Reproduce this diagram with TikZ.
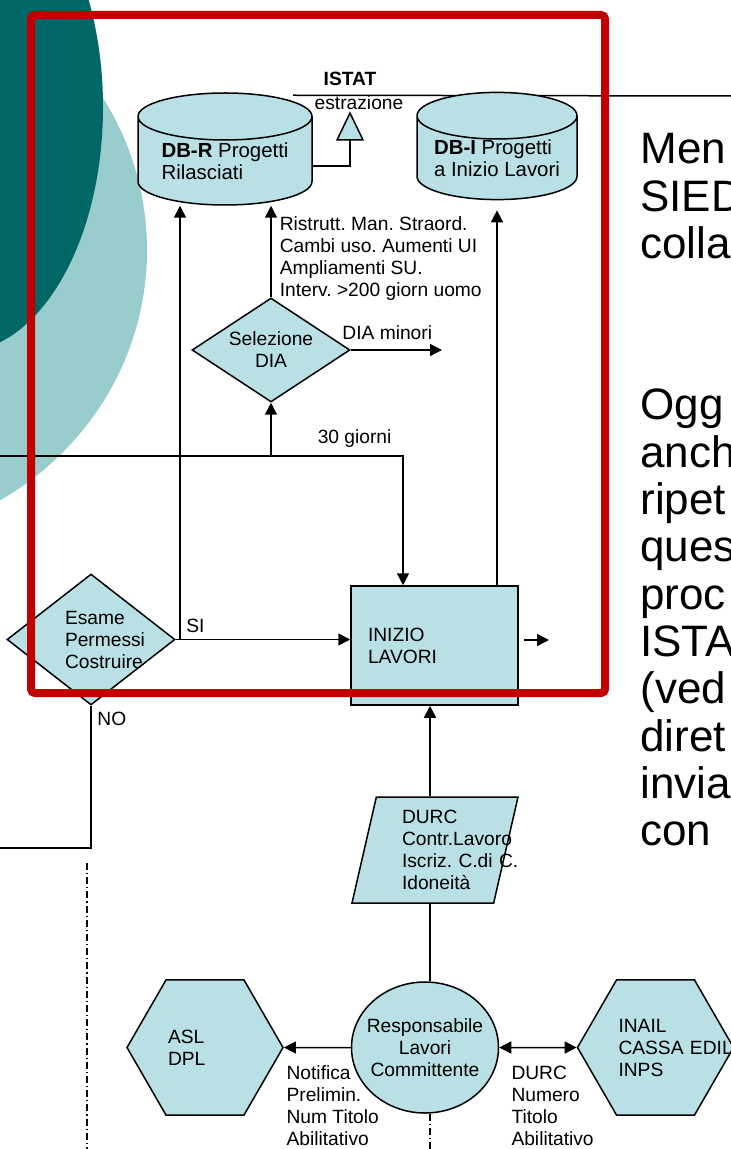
\documentclass[tikz,border=0pt]{standalone}
\usepackage{fontspec}
\setmainfont{Liberation Sans}
\usetikzlibrary{shapes.geometric,arrows.meta,calc,positioning}
\definecolor{boxfill}{RGB}{185,224,228}
\definecolor{darkteal}{RGB}{0,102,102}
\definecolor{lightteal}{RGB}{153,204,204}
\definecolor{framered}{RGB}{192,0,0}
\newcommand{\lbfont}{\fontsize{9.6}{11}\selectfont}
\newcommand{\dbfont}{\fontsize{10.2}{10.8}\selectfont}
\newcommand{\bigfont}{\fontsize{22}{24}\selectfont}
\hyphenpenalty=10000
\frenchspacing

\begin{document}
\begin{tikzpicture}[
    x=0.5pt, y=-0.5pt,
    block/.style={draw, fill=boxfill, line width=0.75pt, inner sep=0pt, font=\lbfont},
    lbl/.style={font=\lbfont, inner sep=1pt},
    > = {Triangle[length=6pt,width=6pt]},
    conn/.style={line width=0.75pt},
    lane/.style={line width=0.6pt, dash pattern=on 3.5pt off 1.5pt on 0.6pt off 1.5pt},
    leftblock/.style={align=left, text width=#1}
  ]
  \useasboundingbox (0,0) rectangle (731,1149);
  \clip (0,0) rectangle (731,1149);

  % slide background
  \fill[lightteal] (-150,250) ellipse [x radius=148.5pt, y radius=145pt];
  \fill[darkteal] (-40,107) ellipse [x radius=71.5pt, y radius=122.5pt];

  % databases
  \node[block, cylinder, shape border rotate=90, aspect=0.37, minimum width=87pt, minimum height=56pt,
        font=\dbfont, align=left, anchor=shape center] (dbr) at (225,149) {\textbf{DB-R} Progetti\\Rilasciati};
  \coordinate (edgeR) at (731,96);
  \draw[conn] ([xshift=34pt,yshift=-1.5pt]dbr.north) -- (edgeR);
  \node[block, cylinder, shape border rotate=90, aspect=0.37, minimum width=80pt, minimum height=51pt,
        font=\dbfont, align=left, anchor=shape center] (dbi) at (497,146) {\textbf{DB-I} Progetti\\a Inizio Lavori};

  % ISTAT extraction
  \node[lbl, font=\lbfont\bfseries] (istat) at (350,79) {ISTAT};
  \node[lbl] (estr) at (359,103) {estrazione};
  \draw[conn, fill=boxfill] (350,113) -- (363,140) -- (337,140) -- cycle;
  \coordinate (tri) at (350,140);
  \coordinate (trilink) at (350,166);
  \draw[conn] (tri) -- (trilink) -- (trilink -| dbr.east);

  % flow
  \node[block, diamond, aspect=1.5, minimum width=79pt, minimum height=52pt, align=center] (sel) at (271,350) {Selezione\\DIA};
  \node[block, rectangle, minimum width=83.5pt, minimum height=59.5pt, leftblock=66.5pt] (inizio) at (434.5,645.5) {INIZIO\\LAVORI};
  \node[block, diamond, aspect=1.28, minimum width=84pt, minimum height=65.5pt, leftblock=26pt] (esame) at (91,639.5) {Esame\\Permessi\\Costruire};
  \node[block, trapezium, trapezium left angle=73, trapezium right angle=107, trapezium stretches body,
        minimum width=83pt, minimum height=53pt, leftblock=33pt] (durc) at (435,850) {DURC\\Contr.Lavoro\\\mbox{Iscriz. C.di C.}\\Idoneità};
  \node[block, ellipse, inner xsep=-4pt, minimum width=73.5pt, minimum height=65.5pt, align=center] (resp) at (425,1047.5) {Responsabile\\Lavori\\Committente};
  \node[block, regular polygon, regular polygon sides=6, minimum size=78pt, leftblock=37pt] (asl) at (205,1047.5) {ASL\\DPL};
  \node[block, regular polygon, regular polygon sides=6, minimum size=78pt, leftblock=37pt] (inail) at (655.5,1047.5) {INAIL\\\mbox{CASSA EDIL}\\INPS};

  % connectors
  \coordinate (edgeL) at (0,456);
  \coordinate (edgeL2) at (0,848);
  \coordinate (sisplit) at (180,639.5);
  \coordinate (diamin) at (442,350);
  \coordinate (outR) at (549,640);
  \coordinate (spine) at (430,1149);
  \coordinate (lanetop) at (87,863);
  \coordinate (lanebot) at (87,1149);

  \draw[conn,->] (sel.north) -- (sel.north |- dbr.south)
    node[lbl, pos=0.42, right=3pt, align=left] (intv) {Ristrutt. Man. Straord.\\Cambi uso. Aumenti UI\\Ampliamenti SU.\\Interv. >200 giorn uomo};
  \draw[conn,->] (sel.east) -- (diamin) node[lbl, pos=0.4, above=4pt] (diamintxt) {DIA minori};
  \draw[conn,->] (edgeL) -| ([xshift=-15.75pt]inizio.north) node[lbl, pos=0.44, above=3pt] (trenta) {30 giorni};
  \draw[conn,->] (sel.south |- edgeL) -- (sel.south);
  \draw[conn,->] (esame.east) -- (esame.east -| inizio.west);
  \draw[conn,->] (sisplit) -- (sisplit |- dbr.south);
  \node[lbl, anchor=south west, inner sep=3pt] (si) at (sisplit) {SI};
  \draw[conn,->] (inizio.north -| dbi.south) -- ([yshift=-5pt]dbi.south);
  \draw[conn,->] ($(inizio.east |- outR)+(2.5pt,0)$) -- (outR);
  \draw[conn] (esame.south) |- (edgeL2);
  \node[lbl, anchor=north west, inner sep=3pt] (no) at (esame.south) {NO};
  \draw[conn,->] (durc.north -| spine) -- (inizio.south -| spine);
  \draw[conn] (resp.north -| spine) -- (durc.south -| spine);
  \draw[conn,->] (resp.west) -- (asl.east)
    node[lbl, pos=1, anchor=north west, yshift=-7.75pt, align=left] (notif) {Notifica\\Prelimin.\\Num Titolo\\Abilitativo};
  \draw[conn,<->] (resp.east) -- (inail.west)
    node[lbl, pos=0, anchor=north west, xshift=4.75pt, yshift=-7.75pt, align=left] (durcnum) {DURC\\Numero\\Titolo\\Abilitativo};
  \draw[lane] (lanetop) -- (lanebot);
  \draw[lane] (resp.south -| spine) -- (spine);

  % slide text
  \foreach \w [count=\i] in {Men,SIED,colla}
    \node[font=\bigfont, inner sep=0pt, anchor=base west] (ta\i) at (640,{164+47.3*(\i-1)}) {\w};
  \foreach \w [count=\i] in {Ogg,anch,ripet,ques,proc,ISTA,{(ved},diret,invia,con}
    \node[font=\bigfont, inner sep=0pt, anchor=base west] (tb\i) at (640,{420+47.3*(\i-1)}) {\w};

  % highlight frame
  \draw[framered, line width=4pt, rounded corners=2pt] (31,15) rectangle (605,693);
\end{tikzpicture}
\end{document}
